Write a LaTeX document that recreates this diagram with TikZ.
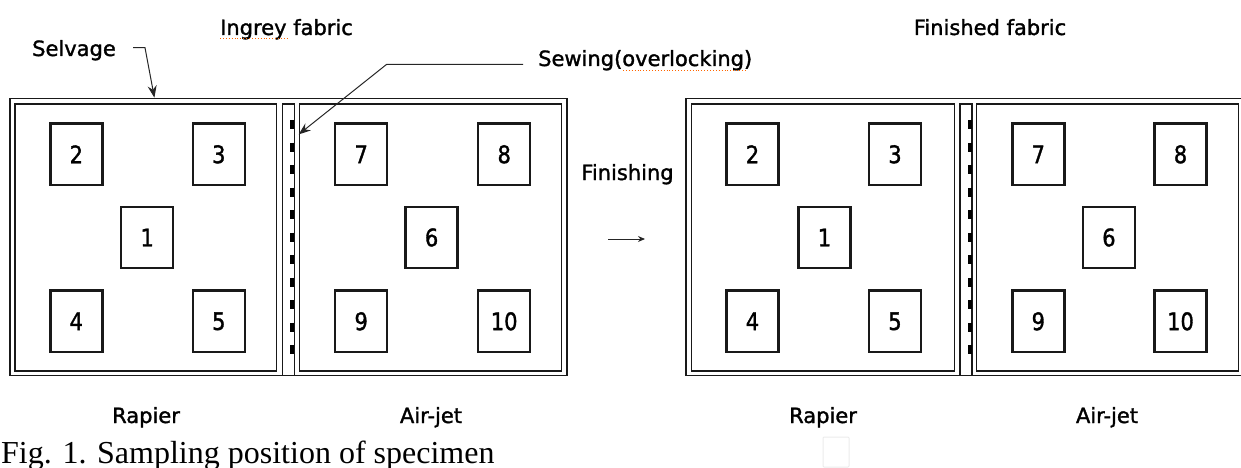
\documentclass[tikz,border=0pt]{standalone}
\usepackage{fontspec}
\setmainfont{DejaVu Sans}
\newfontfamily\labfont[FakeBold=1.5]{DejaVu Sans}
\newfontfamily\capfont{Liberation Serif}
\usetikzlibrary{arrows.meta}
\begin{document}
\begin{tikzpicture}[x=1pt,y=-1pt,
  lbl/.style={font=\labfont\fontsize{21}{24}\selectfont, inner sep=0pt},
  num/.style={draw=black!90, line width=2.4pt, minimum width=52pt, minimum height=61.5pt, inner sep=0pt, font=\labfont\fontsize{21}{24}\selectfont},
  frame/.style={draw=black!90, line width=1.2pt, inner sep=0pt},
  leader/.style={draw=black!85, line width=1pt, -{Stealth[length=12pt,width=9pt]}},
  small/.style={draw=black!85, line width=1pt, -{Stealth[length=7pt,width=6pt]}},
  stitch/.style={draw=black, line width=4pt, dash pattern=on 9pt off 13.5pt},
  squig/.style={draw=orange!80!red, line width=0.9pt, dotted},
]
\newcommand{\tall}[1]{\scalebox{1}[1.15]{#1}}
\useasboundingbox (0,0) rectangle (1241,468);
% ---------- left panel (ingrey) ----------
\node[frame, minimum width=557pt, minimum height=277.2pt] (Lout) at (288.5,236.9) {};
\node[frame, minimum width=261.7pt, minimum height=267pt] (Lrap) at (145.85,237.5) {};
\node[frame, minimum width=11.6pt, minimum height=271.5pt] (Lstr) at (288.5,239.75) {};
\node[frame, minimum width=262.4pt, minimum height=267pt] (Lair) at (430.5,237.5) {};
\coordinate (LsA) at (292,120);
\coordinate (LsB) at (292,356);
\draw[stitch] (LsA) -- (LsB);
\node[num] (l2) at (76.3,154.3) {\tall{2}};
\node[num] (l3) at (218.8,154.3) {\tall{3}};
\node[num] (l1) at (147.2,237.5) {\tall{1}};
\node[num] (l4) at (76.3,321.3) {\tall{4}};
\node[num] (l5) at (218.8,321.3) {\tall{5}};
\node[num] (l7) at (361.2,154.3) {\tall{7}};
\node[num] (l8) at (504.2,154.3) {\tall{8}};
\node[num] (l6) at (431.6,237.5) {\tall{6}};
\node[num] (l9) at (361.2,321.3) {\tall{9}};
\node[num] (l10) at (504.2,321.3) {\tall{10}};
% ---------- right panel (finished) ----------
\node[frame, minimum width=557pt, minimum height=277.2pt] (Rout) at (964.5,236.9) {};
\node[frame, minimum width=263pt, minimum height=267pt] (Rrap) at (823.2,237.5) {};
\node[frame, minimum width=12pt, minimum height=271.5pt] (Rstr) at (966,239.75) {};
\node[frame, minimum width=261.6pt, minimum height=267pt] (Rair) at (1107.5,237.5) {};
\coordinate (RsA) at (969.5,120);
\coordinate (RsB) at (969.5,356);
\draw[stitch] (RsA) -- (RsB);
\node[num] (r2) at (752.5,154.3) {\tall{2}};
\node[num] (r3) at (895,154.3) {\tall{3}};
\node[num] (r1) at (824.5,237.5) {\tall{1}};
\node[num] (r4) at (752.5,321.3) {\tall{4}};
\node[num] (r5) at (895,321.3) {\tall{5}};
\node[num] (r7) at (1038.3,154.3) {\tall{7}};
\node[num] (r8) at (1180.5,154.3) {\tall{8}};
\node[num] (r6) at (1108.9,237.5) {\tall{6}};
\node[num] (r9) at (1038.3,321.3) {\tall{9}};
\node[num] (r10) at (1180.5,321.3) {\tall{10}};
% ---------- labels ----------
\node[lbl, anchor=base west] (ingrey) at (220,35) {Ingrey fabric};
\draw[squig] (220,38.5) -- (287,38.5);
\node[lbl, anchor=base] (finished) at (990,35) {Finished fabric};
\node[lbl, anchor=base west] (selv) at (32,56) {Selvage};
\node[lbl, anchor=base west] (sew) at (538,66) {Sewing(overlocking)};
\draw[squig] (623,70) -- (745,70);
\node[lbl, anchor=base] (fin) at (627.5,180) {Finishing};
\node[lbl, anchor=base] (rapL) at (146,423) {Rapier};
\node[lbl, anchor=base] (airL) at (431,423) {Air-jet};
\node[lbl, anchor=base] (rapR) at (823,423) {Rapier};
\node[lbl, anchor=base] (airR) at (1107,423) {Air-jet};
\node[anchor=base west, inner sep=0pt, font=\capfont\fontsize{32}{34}\selectfont] (cap) at (1,463) {Fig. 1. Sampling position of specimen};
% ---------- leaders ----------
\coordinate (selA) at (133,47.7);
\coordinate (selB) at (145,47.7);
\draw[leader] (selA) -- (selB) -- ([xshift=145pt]Lout.north west);
\coordinate (sewA) at (523,64.3);
\coordinate (sewB) at (386.7,64.3);
\draw[leader] (sewA) -- (sewB) -- ([yshift=-31pt]Lair.north west);
\coordinate (finA) at (608,239);
\coordinate (finB) at (645,239);
\draw[small] (finA) -- (finB);
% faint box
\node[draw=black!8, line width=1pt, rounded corners=1pt, minimum width=26pt, minimum height=30pt, inner sep=0pt] (ghost) at (836,452) {};
\end{tikzpicture}
\end{document}
